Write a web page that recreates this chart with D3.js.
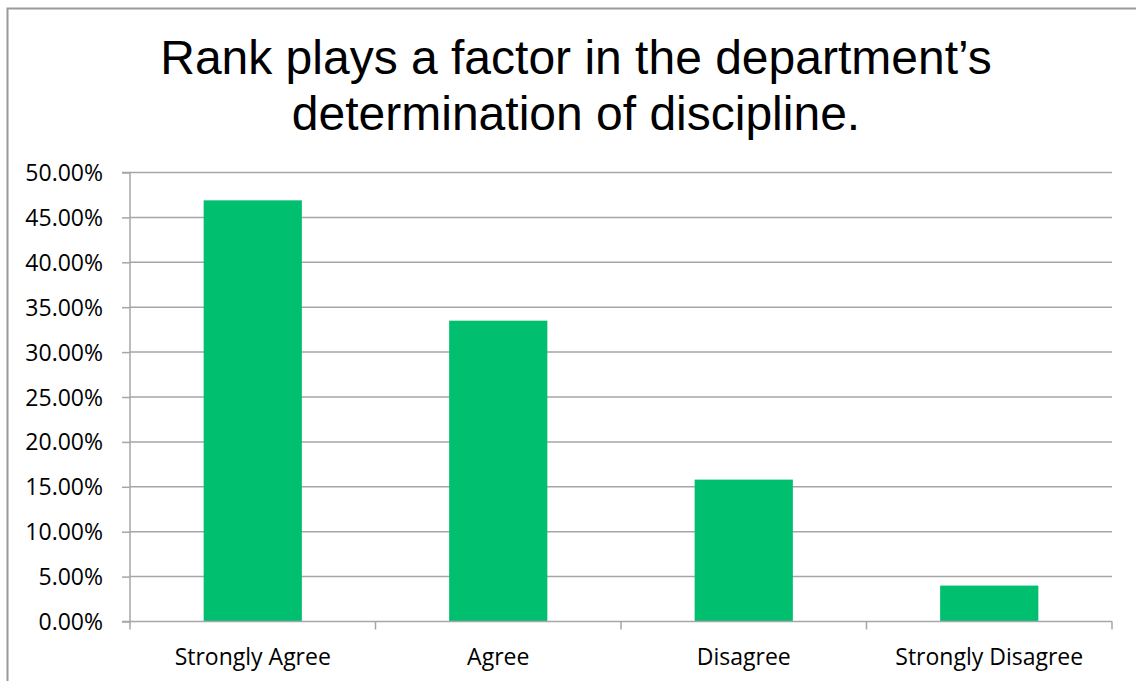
<!DOCTYPE html>
<html>
<head>
<meta charset="utf-8">
<script src="https://cdn.jsdelivr.net/npm/d3@7"></script>
<style>
  html, body { margin: 0; padding: 0; background: #fff; }
  svg { display: block; }
</style>
</head>
<body>
<svg id="chart" width="1136" height="681"></svg>
<script>
const titleLines = ["Rank plays a factor in the department\u2019s", "determination of discipline."];
const categories = ["Strongly Agree", "Agree", "Disagree", "Strongly Disagree"];
const values = [0.469, 0.335, 0.158, 0.040];
const yTicks = [0, 0.05, 0.10, 0.15, 0.20, 0.25, 0.30, 0.35, 0.40, 0.45, 0.50];

const svg = d3.select("#chart");
const W = 1136, H = 681;
const plot = { left: 130, right: 1112, top: 172.5, bottom: 621.5 };
const gridColor = "#a6a6a6";
const labelFont = "'Open Sans', Lato, sans-serif";

// frame
svg.append("path")
  .attr("d", `M7.5,${H} L7.5,8.5 L${W},8.5`)
  .attr("fill", "none").attr("stroke", "#9a9a9a").attr("stroke-width", 2);

// title
const title = svg.append("text")
  .attr("text-anchor", "middle")
  .attr("font-family", "'Liberation Sans', Arial, sans-serif")
  .attr("font-size", 48)
  .attr("fill", "#000");
titleLines.forEach((t, i) => {
  title.append("tspan").attr("x", 576).attr("y", 74 + i * 56).text(t);
});

const x = d3.scaleBand().domain(categories).range([plot.left, plot.right]).padding(0);
const y = d3.scaleLinear().domain([0, 0.5]).range([plot.bottom, plot.top]);

// gridlines
svg.append("g").selectAll("line").data(yTicks.filter(d => d > 0)).join("line")
  .attr("x1", plot.left).attr("x2", plot.right)
  .attr("y1", d => y(d)).attr("y2", d => y(d))
  .attr("stroke", gridColor).attr("stroke-width", 1.5);

// bars
const barW = x.bandwidth() * 0.4;
svg.append("g").selectAll("rect").data(categories).join("rect")
  .attr("x", (d) => x(d) + (x.bandwidth() - barW) / 2)
  .attr("width", barW)
  .attr("y", (d, i) => y(values[i]))
  .attr("height", (d, i) => y(0) - y(values[i]))
  .attr("fill", "#00bf6f");

// y axis
const yAxis = d3.axisLeft(y).tickValues(yTicks).tickFormat(d3.format(".2%")).tickSize(8).tickPadding(19);
const gy = svg.append("g").attr("transform", `translate(${plot.left},0)`).call(yAxis);
gy.select(".domain").attr("stroke", gridColor).attr("stroke-width", 1.5).attr("d", `M-8,${plot.top}H0V${plot.bottom}H-8`);
gy.selectAll(".tick line").attr("stroke", gridColor).attr("stroke-width", 1.5);
gy.selectAll(".tick text").attr("font-family", labelFont).attr("font-size", 23).attr("fill", "#000").attr("dy", "0.35em");

// x axis
const gx = svg.append("g").attr("transform", `translate(0,${plot.bottom})`);
gx.append("line").attr("x1", plot.left).attr("x2", plot.right).attr("y1", 0).attr("y2", 0)
  .attr("stroke", gridColor).attr("stroke-width", 1.5);
const bounds = categories.map(c => x(c)).concat([plot.right]);
gx.selectAll("line.tk").data(bounds).join("line").attr("class", "tk")
  .attr("x1", d => d).attr("x2", d => d).attr("y1", 0).attr("y2", 8)
  .attr("stroke", gridColor).attr("stroke-width", 1.5);
gx.selectAll("text").data(categories).join("text")
  .attr("x", d => x(d) + x.bandwidth() / 2)
  .attr("y", 43)
  .attr("text-anchor", "middle")
  .attr("font-family", labelFont).attr("font-size", 23).attr("fill", "#000")
  .text(d => d);
</script>
</body>
</html>
